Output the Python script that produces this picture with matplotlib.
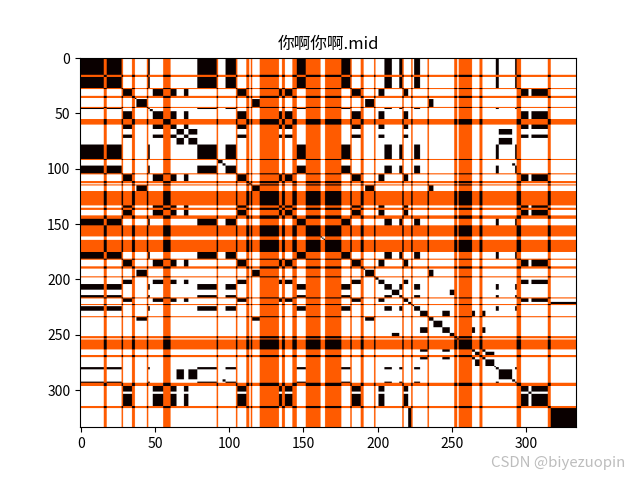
# -*- coding: utf-8 -*-
import numpy as np, matplotlib
matplotlib.use('Agg')
import matplotlib.pyplot as plt

plt.rcParams['font.family'] = ['Noto Sans CJK SC', 'DejaVu Sans']

seg_starts = [0, 16, 18, 28, 29, 35, 37, 38, 45, 46, 47, 49, 56, 61, 65, 70, 73, 79, 92, 93, 96, 98,
              105, 106, 112, 114, 115, 116, 121, 134, 136, 138, 143, 146, 152, 162, 163, 164, 165,
              176, 182, 183, 189, 191, 192, 198, 199, 201, 205, 210, 215, 217, 218, 221, 223, 224,
              225, 229, 234, 235, 238, 244, 249, 252, 254, 255, 264, 266, 269, 271, 273, 279, 280,
              282, 291, 293, 294, 297, 302, 304, 315, 317]
seg_labels = ['A', 'O', 'A', 'O', 'B', 'O', 'D', 'C', 'O', 'A', 'E', 'B', 'O', 'B', 'F', 'B', 'F', 'A', 'O', 'H', 'I', 'A',
              'O', 'B', 'O', 'V', 'O', 'C', 'O', 'B', 'O', 'B', 'O', 'A', 'O', 'J1', 'J2', 'J3', 'O',
              'A', 'O', 'B', 'O', 'X', 'C', 'O', 'U', 'B', 'A', 'K', 'A', 'O', 'B', 'G', 'O', 'P',
              'A', 'M', 'O', 'C', 'N', 'M', 'K', 'O', 'W', 'O', 'M', 'S', 'O', 'M', 'S', 'Y', 'A',
              'F', 'I', 'A', 'O', 'B', 'Z', 'B', 'O', 'G']
n_steps = 334
title = '你啊你啊.mid'
x_ticks = [0, 50, 100, 150, 200, 250, 300]
y_ticks = [0, 50, 100, 150, 200, 250, 300]

seq = np.empty(n_steps, dtype=object)
ends = seg_starts[1:] + [n_steps]
for s, e, lab in zip(seg_starts, ends, seg_labels):
    seq[s:e] = lab

# 0 = same label (black), 0.5 = one side is O (orange), 1 = differ (white)
mat = np.ones((n_steps, n_steps))
is_o = seq == 'O'
mat[is_o, :] = 0.5
mat[:, is_o] = 0.5
mat[seq[:, None] == seq[None, :]] = 0

fig, ax = plt.subplots(figsize=(6.4, 4.8), dpi=100)
ax.imshow(mat, cmap='hot', vmin=0, vmax=1, aspect='auto')
ax.set_xticks(x_ticks)
ax.set_yticks(y_ticks)
ax.set_title(title)
fig.text(0.767, 0.027, 'CSDN @biyezuopin', color='#bdbdbd', fontsize=10.8)
fig.savefig('out.png')
